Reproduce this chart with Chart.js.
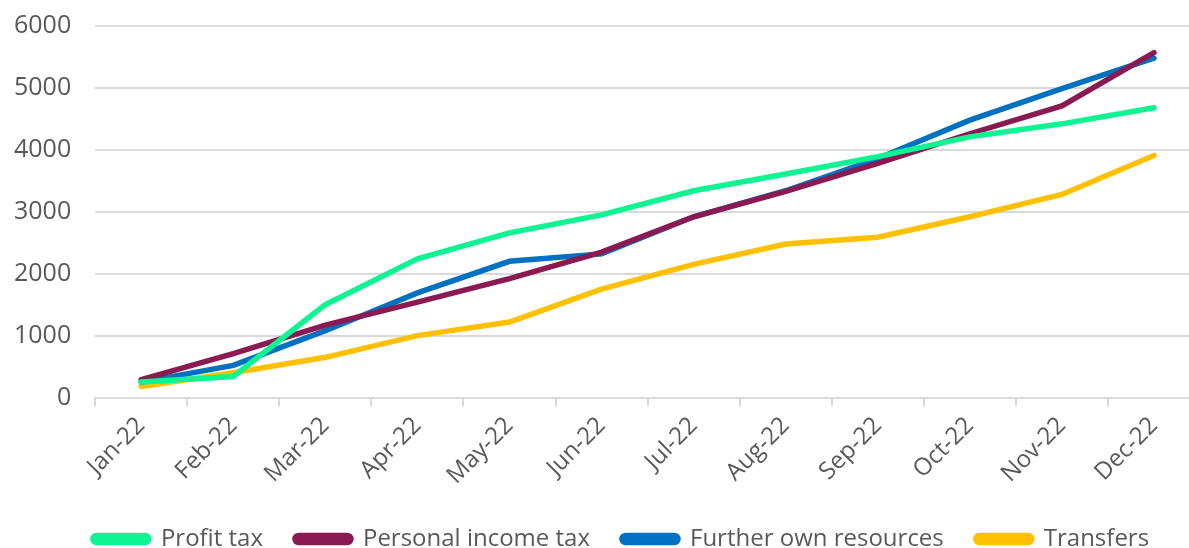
<!DOCTYPE html>
<html>
<head>
<meta charset="utf-8">
<script src="https://cdn.jsdelivr.net/npm/chart.js@4"></script>
<style>
  html, body { margin: 0; padding: 0; background: #fff; overflow: hidden; }
  #wrap { width: 1210px; height: 561px; margin-top: -13px; margin-left: -10px; }
</style>
</head>
<body>
<div id="wrap"><canvas id="revenueChart"></canvas></div>
<script>
const months = ["Jan-22", "Feb-22", "Mar-22", "Apr-22", "May-22", "Jun-22",
                "Jul-22", "Aug-22", "Sep-22", "Oct-22", "Nov-22", "Dec-22"];
const profitTax = [250, 340, 1500, 2240, 2660, 2950, 3340, 3610, 3890, 4210, 4420, 4680];
const personalIncomeTax = [290, 710, 1170, 1540, 1920, 2350, 2920, 3330, 3780, 4260, 4710, 5570];
const furtherOwnResources = [250, 520, 1080, 1690, 2200, 2320, 2920, 3340, 3860, 4480, 4990, 5480];
const transfers = [180, 400, 650, 1000, 1220, 1750, 2150, 2480, 2590, 2920, 3280, 3910];
const yTicks = [0, 1000, 2000, 3000, 4000, 5000, 6000];

const textColor = "#595959";
const fontFamily = "'Open Sans', Lato, sans-serif";

function series(label, data, color) {
    return {
        label: label,
        data: data,
        borderColor: color,
        backgroundColor: color,
        borderWidth: 5.5,
        pointRadius: 0,
        pointHoverRadius: 0,
        tension: 0,
        fill: false,
        borderCapStyle: "round"
    };
}

// the legend in the original sits a bit right of centre
const legendShift = {
    id: "legendShift",
    afterLayout(chart) {
        chart.legend.left += 26;
        chart.legend.right += 26;
    }
};

const ctx = document.getElementById("revenueChart").getContext("2d");

new Chart(ctx, {
    type: "line",
    data: {
        labels: months,
        datasets: [
            series("Profit tax", profitTax, "#0CF592"),
            series("Personal income tax", personalIncomeTax, "#8C1A52"),
            series("Further own resources", furtherOwnResources, "#0070C0"),
            series("Transfers", transfers, "#FFC000")
        ]
    },
    plugins: [legendShift],
    options: {
        responsive: true,
        maintainAspectRatio: false,
        animation: false,
        layout: { padding: { top: 0, left: 0, right: 0, bottom: -13 } },
        plugins: {
            legend: {
                display: true,
                position: "bottom",
                labels: {
                    color: textColor,
                    font: { family: fontFamily, size: 24 },
                    boxWidth: 56,
                    boxHeight: 7,
                    useBorderRadius: true,
                    borderRadius: 3.5,
                    padding: 32
                }
            },
            tooltip: { enabled: false }
        },
        scales: {
            x: {
                offset: true,
                grid: {
                    offset: true,
                    drawOnChartArea: false,
                    drawTicks: true,
                    tickLength: 9,
                    color: "#d9d9d9",
                    lineWidth: 2
                },
                border: { display: true, color: "#d9d9d9", width: 2 },
                ticks: {
                    color: textColor,
                    font: { family: fontFamily, size: 24 },
                    maxRotation: 45,
                    minRotation: 45,
                    padding: 5
                }
            },
            y: {
                min: 0,
                max: 6000,
                afterBuildTicks: axis => { axis.ticks = yTicks.map(v => ({ value: v })); },
                grid: { color: "#d9d9d9", lineWidth: 2, drawTicks: false },
                border: { display: false },
                ticks: {
                    color: textColor,
                    font: { family: fontFamily, size: 25 },
                    padding: 24,
                    callback: value => String(value)
                }
            }
        }
    }
});
</script>
</body>
</html>
